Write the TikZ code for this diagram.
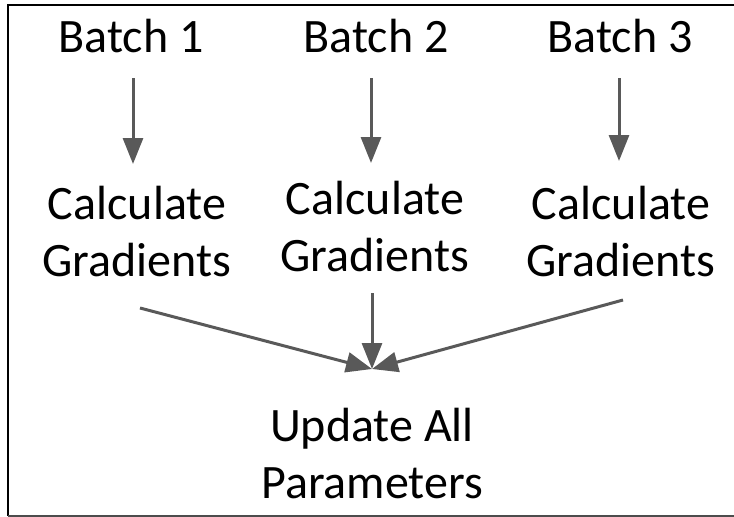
\documentclass[tikz,border=0pt]{standalone}
\usepackage{fontspec}
\setmainfont{Carlito}
\usetikzlibrary{arrows.meta}
\definecolor{arrgray}{HTML}{595959}
\tikzset{
  lbl/.style={inner sep=0pt, anchor=base, align=center, font=\fontsize{48}{57}\selectfont},
  arr/.style={draw=arrgray, line width=3pt, -{Triangle[length=26pt,width=20pt]}},
}
\begin{document}
\begin{tikzpicture}[x=1pt,y=-1pt]
\useasboundingbox (0,0) rectangle (734,517);
% frame
\draw[line width=2.5pt, black] (8,516) -- (8,5) -- (734,5);
\draw[line width=2pt, black!70] (8,515.5) -- (734,515.5);
% texts
\node[lbl] (b1) at (131,52) {Batch 1};
\node[lbl] (b2) at (376,52) {Batch 2};
\node[lbl] (b3) at (620,52) {Batch 3};
\node[lbl] (c1) at (137,276) {Calculate\\Gradients};
\node[lbl] (c2) at (375,271) {Calculate\\Gradients};
\node[lbl] (c3) at (621,276) {Calculate\\Gradients};
\node[lbl] (u) at (372,498) {Update All\\Parameters};
% connector endpoints
\coordinate (b1s) at (133,78);
\coordinate (c1n) at (133,164);
\coordinate (b2s) at (371,78);
\coordinate (c2n) at (371,163);
\coordinate (b3s) at (619,78);
\coordinate (c3n) at (619,161);
\coordinate (c1s) at (140,308);
\coordinate (c2s) at (372,293);
\coordinate (c3s) at (623,300);
\coordinate (m) at (372,369);
\draw[arr] (b1s) -- (c1n);
\draw[arr] (b2s) -- (c2n);
\draw[arr] (b3s) -- (c3n);
\draw[arr] (c1s) -- (m);
\draw[arr] (c2s) -- (m);
\draw[arr] (c3s) -- (m);
\end{tikzpicture}
\end{document}
